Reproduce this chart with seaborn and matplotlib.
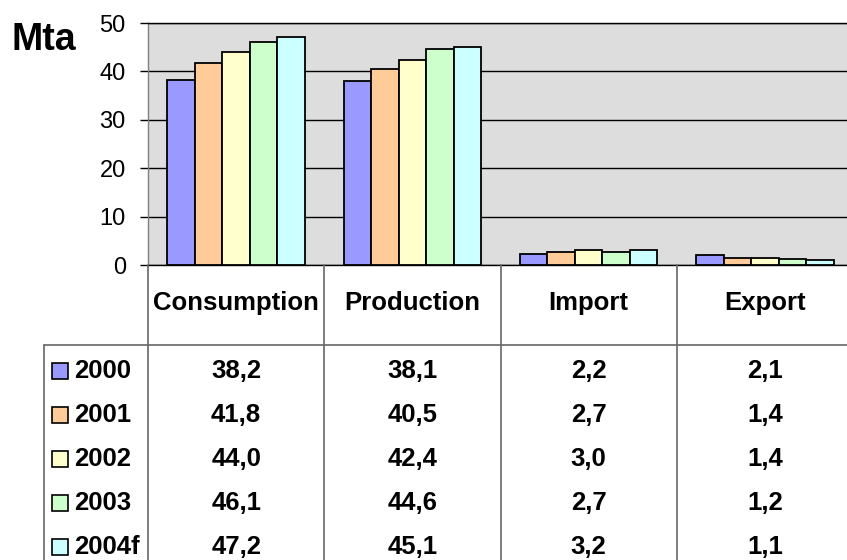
import matplotlib
matplotlib.use("Agg")
import matplotlib.pyplot as plt
import matplotlib.transforms as mtransforms
from matplotlib.lines import Line2D
from matplotlib.patches import Rectangle
import seaborn as sns
import pandas as pd

categories = ["Consumption", "Production", "Import", "Export"]
years = ["2000", "2001", "2002", "2003", "2004f"]
values_2000 = [38.2, 38.1, 2.2, 2.1]
values_2001 = [41.8, 40.5, 2.7, 1.4]
values_2002 = [44.0, 42.4, 3.0, 1.4]
values_2003 = [46.1, 44.6, 2.7, 1.2]
values_2004f = [47.2, 45.1, 3.2, 1.1]
colors = ["#9999FF", "#FFCC99", "#FFFFCC", "#CCFFCC", "#CCFFFF"]
y_ticks = [0, 10, 20, 30, 40, 50]
unit_label = "Mta"

series = [values_2000, values_2001, values_2002, values_2003, values_2004f]
rows = []
for yr, vals in zip(years, series):
    for cat, v in zip(categories, vals):
        rows.append({"category": cat, "year": yr, "value": v})
df = pd.DataFrame(rows)

sns.set_theme(style="white")
plt.rcParams["font.family"] = ["Liberation Sans", "DejaVu Sans"]
plt.rcParams["text.color"] = "black"
plt.rcParams["ytick.color"] = "black"
plt.rcParams["ytick.labelcolor"] = "black"

W, H = 847, 560
fig = plt.figure(figsize=(W / 100, H / 100), dpi=100)
fig.patch.set_facecolor("white")

def fx(px):
    return px / W

def fy(py):
    return 1 - py / H

ax_left, ax_right = 148, 853
ax_top, ax_bottom = 23, 265
ax = fig.add_axes([fx(ax_left), fy(ax_bottom), fx(ax_right - ax_left), (ax_bottom - ax_top) / H])
ax.set_facecolor("#DDDDDD")

sns.barplot(data=df, x="category", y="value", hue="year", order=categories,
            hue_order=years, palette=colors, saturation=1, width=0.78,
            edgecolor="black", linewidth=1.3, legend=False, ax=ax, zorder=3)

ax.set_ylim(0, 50)
ax.set_xlim(-0.5, 3.5)
ax.set_yticks(y_ticks)
ax.set_yticklabels([str(t) for t in y_ticks], fontsize=17, color="black")
ax.set_xticks([])
ax.set_xlabel("")
ax.set_ylabel("")
ax.yaxis.grid(True, color="black", linewidth=1.0, zorder=1)
ax.set_axisbelow(True)
ax.tick_params(axis="y", which="both", direction="out", length=6, width=1.0,
               color="black", pad=10, left=True)
for s in ["top", "bottom"]:
    ax.spines[s].set_color("black")
    ax.spines[s].set_linewidth(1.0)
ax.spines["left"].set_color("#808080")
ax.spines["left"].set_linewidth(1.0)
ax.spines["right"].set_visible(False)

fig.text(fx(11), fy(40), unit_label, fontsize=27, fontweight="bold",
         ha="left", va="center", color="black")

# table
blend = mtransforms.blended_transform_factory(ax.transData, fig.transFigure)
line_col = "#666666"
header_bottom = 345
for b in [-0.5, 0.5, 1.5, 2.5]:
    fig.add_artist(Line2D([b, b], [fy(ax_bottom), 0], transform=blend,
                          color=line_col, linewidth=1.2))
fig.add_artist(Line2D([fx(44), 1], [fy(header_bottom), fy(header_bottom)],
                      transform=fig.transFigure, color=line_col, linewidth=1.2))
fig.add_artist(Line2D([fx(44), fx(44)], [fy(header_bottom), 0],
                      transform=fig.transFigure, color=line_col, linewidth=1.2))

tfs = 18.5
for i, cat in enumerate(categories):
    fig.text(i, fy(303), cat, transform=blend, fontsize=tfs, fontweight="bold",
             ha="center", va="center", color="black")

row_y = [371, 415, 459, 503, 547]
for yr, vals, col, ry in zip(years, series, colors, row_y):
    fig.add_artist(Rectangle((fx(52), fy(ry + 8)), fx(16), 16 / H,
                             transform=fig.transFigure, facecolor=col,
                             edgecolor="black", linewidth=1.2))
    fig.text(fx(74), fy(ry), yr, fontsize=tfs, fontweight="bold",
             ha="left", va="center", color="black")
    for i, v in enumerate(vals):
        fig.text(i, fy(ry), f"{v:.1f}".replace(".", ","), transform=blend,
                 fontsize=tfs, fontweight="bold", ha="center", va="center",
                 color="black")

fig.savefig("out.png", dpi=100)
